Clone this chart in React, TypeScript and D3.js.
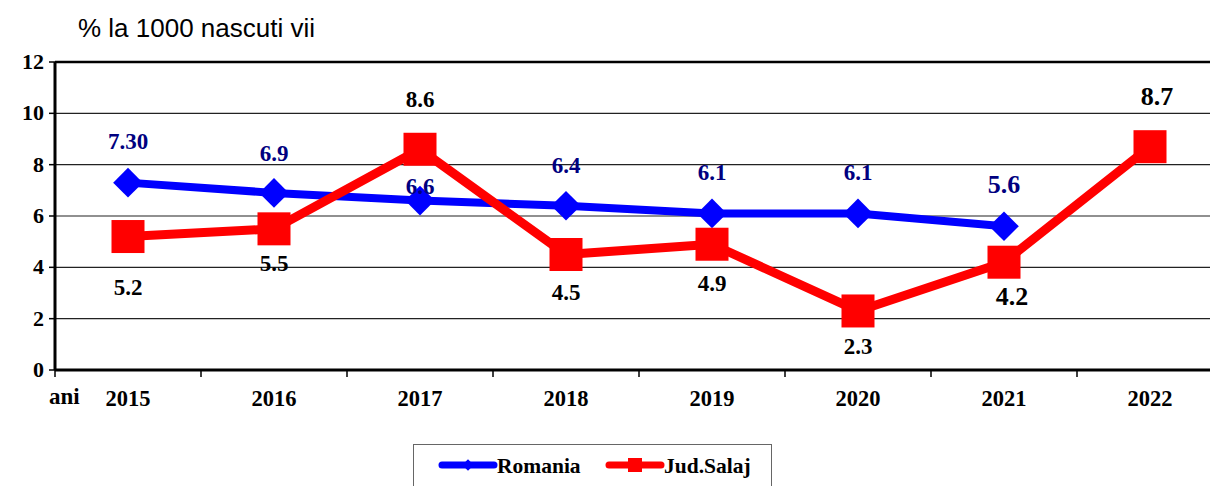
import * as React from "react";
import * as d3 from "d3";

const years = ["2015", "2016", "2017", "2018", "2019", "2020", "2021", "2022"];
const romania = [7.3, 6.9, 6.6, 6.4, 6.1, 6.1, 5.6];
const romaniaLabels = ["7.30", "6.9", "6.6", "6.4", "6.1", "6.1", "5.6"];
const salaj = [5.2, 5.5, 8.6, 4.5, 4.9, 2.3, 4.2, 8.7];
const salajLabels = ["5.2", "5.5", "8.6", "4.5", "4.9", "2.3", "4.2", "8.7"];
const yTicks = [0, 2, 4, 6, 8, 10, 12];

// label placement (px offset from the point)
const romaniaDy = [-34, -32, -7, -33, -33, -33, -33];
const romaniaSize = [23, 23, 23, 23, 23, 23, 26];
const salajDy = [58, 42, -42, 45, 47, 43, 43, -42];
const salajDx = [0, 0, 0, 0, 0, 0, 8, 7];
const salajSize = [23, 23, 23, 23, 23, 23, 26, 26];

const W = 1210;
const H = 486;
const margin = { left: 55, top: 62, bottom: 370 };

export default function App() {
  const x = d3.scaleBand<string>().domain(years).range([margin.left, margin.left + 146 * years.length]);
  const y = d3.scaleLinear().domain([0, 12]).range([margin.bottom, margin.top]);
  const cx = (i: number) => (x(years[i]) ?? 0) + x.bandwidth() / 2;

  const line = d3.line<number>().x((_, i) => cx(i)).y(d => y(d));
  const serif = "'Liberation Serif', 'DejaVu Serif', serif";

  return (
    <svg width={W} height={H} style={{ position: "absolute", left: 0, top: 0 }}>
      <rect width={W} height={H} fill="white" />
      <text x={78} y={37} fontFamily="'Liberation Sans', Arial, sans-serif" fontSize={26} fill="#000">
        % la 1000 nascuti vii
      </text>

      {yTicks.map(t => (
        <g key={t}>
          {t > 0 && t < 12 && (
            <line x1={margin.left} x2={W} y1={y(t)} y2={y(t)} stroke="#222" strokeWidth={1.2} />
          )}
          <line x1={margin.left - 6} x2={margin.left} y1={y(t)} y2={y(t)} stroke="#000" strokeWidth={1.5} />
          <text x={44} y={y(t) + 7} textAnchor="end" fontFamily={serif} fontWeight="bold" fontSize={22}>
            {t}
          </text>
        </g>
      ))}
      <line x1={margin.left} x2={W} y1={y(12)} y2={y(12)} stroke="#000" strokeWidth={2.5} />
      <line x1={margin.left} x2={W} y1={y(0)} y2={y(0)} stroke="#000" strokeWidth={3} />
      <line x1={margin.left} x2={margin.left} y1={y(12)} y2={y(0)} stroke="#000" strokeWidth={3} />

      {years.map((yr, i) => (
        <g key={yr}>
          <line x1={x(yr)!} x2={x(yr)!} y1={y(0)} y2={y(0) + 7} stroke="#000" strokeWidth={1.5} />
          <text x={cx(i)} y={406} textAnchor="middle" fontFamily={serif} fontWeight="bold" fontSize={22.5}>
            {yr}
          </text>
        </g>
      ))}
      <text x={49} y={404} fontFamily={serif} fontWeight="bold" fontSize={23}>ani</text>

      <path d={line(romania) ?? ""} fill="none" stroke="#0000ff" strokeWidth={8} strokeLinejoin="round" />
      {romania.map((v, i) => (
        <rect key={i} x={cx(i) - 10.5} y={y(v) - 10.5} width={21} height={21} fill="#0000ff"
          transform={`rotate(45 ${cx(i)} ${y(v)})`} />
      ))}

      <path d={line(salaj) ?? ""} fill="none" stroke="#ff0000" strokeWidth={9} strokeLinejoin="round" />
      {salaj.map((v, i) => (
        <rect key={i} x={cx(i) - 16.5} y={y(v) - 16.5} width={33} height={33} fill="#ff0000" />
      ))}

      {romania.map((v, i) => (
        <text key={i} x={cx(i)} y={y(v) + romaniaDy[i]} textAnchor="middle" fontFamily={serif}
          fontWeight="bold" fontSize={romaniaSize[i]} fill="#000080">
          {romaniaLabels[i]}
        </text>
      ))}
      {salaj.map((v, i) => (
        <text key={i} x={cx(i) + salajDx[i]} y={y(v) + salajDy[i]} textAnchor="middle" fontFamily={serif}
          fontWeight="bold" fontSize={salajSize[i]} fill="#000">
          {salajLabels[i]}
        </text>
      ))}

      <rect x={413.5} y={444.5} width={358} height={50} fill="white" stroke="#666" strokeWidth={1} />
      <line x1={442} x2={494} y1={465} y2={465} stroke="#0000ff" strokeWidth={7} strokeLinecap="round" />
      <rect x={464} y={461} width={8} height={8} fill="#0000ff" transform="rotate(45 468 465)" />
      <text x={497} y={473} fontFamily={serif} fontWeight="bold" fontSize={21.5}>Romania</text>
      <line x1={609} x2={661} y1={465} y2={465} stroke="#ff0000" strokeWidth={7} strokeLinecap="round" />
      <rect x={628} y={458} width={14} height={14} fill="#ff0000" />
      <text x={664} y={473} fontFamily={serif} fontWeight="bold" fontSize={21.5}>Jud.Salaj</text>
    </svg>
  );
}
